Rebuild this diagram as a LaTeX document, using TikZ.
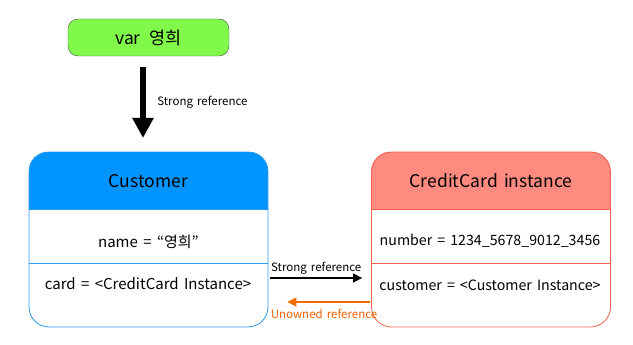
\documentclass[tikz,border=0pt]{standalone}
\usepackage{fontspec}
\setmainfont[WordSpace=1.6]{Noto Sans CJK KR}
\usetikzlibrary{arrows.meta, positioning}
\definecolor{varfill}{HTML}{80F94A}
\definecolor{custhead}{HTML}{0094FF}
\definecolor{custline}{HTML}{2A9BF0}
\definecolor{cchead}{HTML}{FF8A80}
\definecolor{ccline}{HTML}{F2634F}
\definecolor{unowned}{HTML}{F06A00}
\tikzset{
  objbox/.style={rounded corners=20pt, minimum width=239pt, minimum height=175pt, line width=0.8pt},
  field/.style={font=\fontsize{15}{17}\selectfont},
  ccfield/.style={font=\fontsize{14.2}{16}\selectfont},
  title/.style={font=\fontsize{17.5}{20}\selectfont},
  reflabel/.style={font=\fontsize{11.5}{13}\selectfont}
}
\begin{document}
\begin{tikzpicture}[x=1pt, y=-1pt]
  \useasboundingbox (0,0) rectangle (633,345);
  % variable
  \node (var) [draw=black!70, fill=varfill, rounded corners=10pt, minimum width=161pt, minimum height=37pt,
    title] at (148.5,37.5) {var\enspace 영희};
  \coordinate (arrtop) at (143,67);
  \coordinate (arrbot) at (143,138);
  \draw [line width=6pt, -{Triangle[width=20pt, length=20pt]}] (arrtop) -- (arrbot)
    node [midway, right=8pt, reflabel] {Strong reference};

  % two instances
  \node (cust) [objbox] at (148.5,239.5) {};
  \node (cc) [objbox] at (491,239.5) {};
  \begin{scope}
    \clip [rounded corners=20pt] (cust.south west) rectangle (cust.north east);
    \fill [custhead] (cust.north west) rectangle ([yshift=-58pt]cust.north east);
  \end{scope}
  \begin{scope}
    \clip [rounded corners=20pt] (cc.south west) rectangle (cc.north east);
    \fill [cchead] (cc.north west) rectangle ([yshift=-58pt]cc.north east);
  \end{scope}
  \node [objbox, draw=custline] at (cust) {};
  \node [objbox, draw=ccline] at (cc) {};
  \draw [custline, line width=0.8pt] ([yshift=-58pt]cust.north west) -- ([yshift=-58pt]cust.north east);
  \draw [custline, line width=0.8pt] ([yshift=-112pt]cust.north west) -- ([yshift=-112pt]cust.north east);
  \draw [ccline, line width=0.8pt] ([yshift=-58pt]cc.north west) -- ([yshift=-58pt]cc.north east);
  \draw [ccline, line width=0.8pt] ([yshift=-112pt]cc.north west) -- ([yshift=-112pt]cc.north east);

  \node (custname) [title] at (148.5,181) {Customer};
  \node (name) [field] at (148.5,242) {name = “영희”};
  \node (card) [field] at (148,284) {card = <CreditCard Instance>};
  \node (ccname) [title] at (491,181) {CreditCard instance};
  \node (number) [ccfield] at (490,241) {number = 1234\_5678\_9012\_3456};
  \node (customer) [ccfield] at (490,285) {customer = <Customer Instance>};

  % references
  \draw [line width=1.2pt, -{Triangle[width=9pt, length=9pt]}]
    ([shift={(2pt,-38.5pt)}]cust.east) -- ([shift={(-9pt,-38.5pt)}]cc.west)
    node [midway, above=0pt, reflabel] {Strong reference};
  \draw [unowned, line width=1.2pt, -{Triangle[width=9pt, length=9pt]}]
    ([shift={(-1pt,-62.5pt)}]cc.west) -- ([shift={(19pt,-62.5pt)}]cust.east);
  \node (unlabel) [reflabel, text=unowned!90!red] at (324,314) {Unowned reference};
\end{tikzpicture}
\end{document}
